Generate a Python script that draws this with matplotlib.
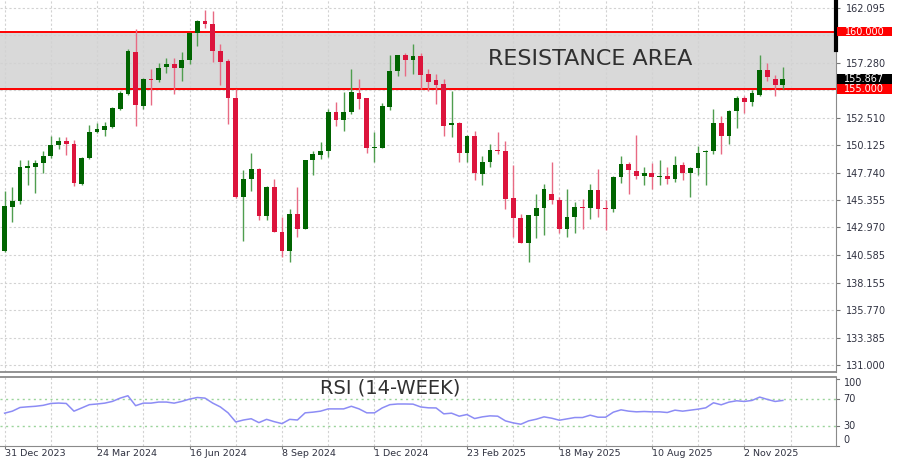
import matplotlib
matplotlib.use("Agg")
import matplotlib.pyplot as plt
import matplotlib.transforms as mtransforms
from matplotlib.patches import Rectangle
import numpy as np

# weekly USD/JPY candles, first one is the week of 31 Dec 2023
opens = [140.91, 144.75, 145.24, 148.13, 148.22, 148.59, 149.17, 150.17, 150.49, 150.23,
         146.77, 148.99, 151.30, 151.47, 151.68, 153.26, 154.56, 158.22, 153.55, 155.86,
         155.77, 156.93, 157.16, 156.81, 157.50, 159.90, 160.88, 160.62, 158.31, 157.45,
         154.19, 145.62, 147.14, 148.01, 143.97, 146.48, 142.59, 140.94, 144.17, 142.87,
         148.79, 149.30, 149.65, 152.98, 152.34, 152.98, 154.65, 154.19, 149.89, 149.89,
         153.41, 156.58, 157.94, 157.50, 157.88, 156.35, 155.77, 155.43, 151.85, 152.02,
         149.45, 150.90, 147.64, 148.65, 149.74, 149.65, 145.53, 143.80, 141.63, 143.94,
         144.69, 145.90, 145.33, 142.87, 143.88, 144.75, 144.69, 146.25, 144.66, 144.54,
         147.35, 148.50, 147.87, 147.43, 147.69, 147.32, 147.40, 147.20, 148.36, 147.72,
         148.13, 149.51, 149.65, 152.05, 150.95, 153.12, 154.19, 153.84, 154.50, 156.67,
         155.92, 155.37]
highs = [146.10, 146.48, 148.87, 148.79, 148.79, 149.65, 150.90, 150.81, 150.86, 150.61,
         149.10, 151.90, 152.05, 152.11, 153.45, 154.80, 158.52, 160.25, 155.95, 156.79,
         157.31, 157.68, 157.70, 158.22, 159.95, 161.00, 161.92, 161.77, 158.89, 157.60,
         154.99, 147.92, 149.45, 148.10, 146.55, 147.20, 143.90, 144.55, 146.48, 148.85,
         149.65, 150.38, 153.26, 153.90, 154.71, 156.73, 155.86, 154.25, 151.25, 153.78,
         157.94, 157.98, 158.11, 158.89, 158.11, 156.73, 156.30, 155.86, 154.85, 152.10,
         150.98, 151.39, 149.22, 150.23, 151.25, 150.52, 148.36, 144.17, 144.05, 145.90,
         146.77, 148.70, 145.62, 146.34, 145.19, 145.47, 146.77, 148.07, 145.33, 147.40,
         149.22, 148.65, 151.01, 148.22, 148.59, 148.79, 148.22, 149.17, 148.65, 148.20,
         150.03, 149.70, 153.26, 152.68, 153.15, 154.41, 154.41, 154.94, 157.94, 157.25,
         156.21, 156.96]
lows = [140.85, 143.45, 145.04, 146.68, 145.96, 147.72, 149.02, 149.80, 149.28, 146.57,
        146.62, 148.95, 151.18, 150.90, 151.60, 153.20, 154.50, 151.82, 153.30, 153.60,
        155.63, 156.44, 154.56, 155.72, 157.16, 158.74, 160.34, 157.36, 155.34, 151.96,
        145.55, 141.77, 146.10, 143.60, 143.60, 142.55, 140.42, 139.99, 142.16, 142.80,
        147.49, 148.94, 149.08, 151.82, 151.39, 152.83, 153.26, 149.45, 148.65, 149.85,
        153.18, 156.15, 156.15, 156.30, 155.00, 154.85, 153.70, 150.95, 150.81, 148.70,
        148.70, 147.06, 146.62, 148.22, 149.37, 144.60, 142.16, 141.60, 139.99, 142.07,
        142.30, 145.04, 142.44, 142.16, 142.44, 142.87, 143.74, 143.88, 142.73, 144.32,
        146.86, 145.90, 147.20, 146.62, 146.34, 146.62, 146.77, 146.92, 147.06, 145.62,
        147.49, 146.62, 149.37, 149.37, 150.23, 151.62, 152.92, 153.50, 154.41, 155.71,
        154.36, 155.05]
closes = [144.84, 145.27, 148.22, 148.35, 148.59, 149.22, 150.17, 150.52, 150.20, 146.86,
          149.02, 151.30, 151.50, 151.77, 153.38, 154.65, 158.31, 153.64, 155.89, 155.77,
          156.87, 157.16, 156.87, 157.53, 159.90, 160.91, 160.62, 158.31, 157.39, 154.19,
          145.62, 147.14, 148.01, 143.97, 146.48, 142.59, 140.94, 144.17, 142.87, 148.79,
          149.37, 149.65, 152.98, 152.34, 152.98, 154.71, 154.13, 149.89, 149.98, 153.50,
          156.58, 157.94, 157.53, 157.88, 156.23, 155.66, 155.37, 151.82, 152.02, 149.45,
          150.95, 147.72, 148.65, 149.71, 149.60, 145.47, 143.80, 141.63, 144.03, 144.69,
          146.34, 145.33, 142.87, 143.88, 144.75, 144.63, 146.25, 144.60, 144.54, 147.35,
          148.50, 147.92, 147.40, 147.72, 147.35, 147.40, 147.20, 148.36, 147.72, 148.16,
          149.45, 149.65, 152.05, 150.95, 153.12, 154.19, 153.84, 154.65, 156.67, 156.01,
          155.37, 155.87]
rsi = [49.0, 52.0, 57.5, 58.5, 59.3, 60.7, 63.5, 64.1, 63.5, 52.0,
       56.8, 61.7, 62.7, 64.0, 66.6, 71.5, 75.0, 60.2, 64.0, 64.0,
       65.6, 65.6, 64.0, 66.6, 70.0, 72.4, 71.5, 64.1, 58.3, 49.5,
       35.9, 38.8, 40.7, 34.9, 39.8, 36.3, 33.4, 39.8, 38.8, 49.5,
       50.5, 52.0, 55.4, 55.4, 55.4, 59.3, 55.4, 49.5, 49.5, 56.8,
       61.7, 62.7, 62.7, 62.5, 58.3, 57.0, 56.8, 48.0, 49.0, 44.5,
       47.0, 41.0, 43.5, 45.0, 44.5, 37.5, 34.5, 32.5, 37.5, 40.0,
       43.5, 41.5, 38.5, 40.5, 42.5, 42.5, 46.0, 43.0, 43.0, 50.5,
       54.0, 52.0, 51.0, 51.5, 51.0, 51.0, 50.0, 53.5, 52.0, 53.5,
       55.0, 57.0, 64.5, 61.5, 65.5, 67.5, 66.5, 68.0, 73.0, 69.5,
       66.5, 68.0]

date_labels = ["31 Dec 2023", "24 Mar 2024", "16 Jun 2024", "8 Sep 2024", "1 Dec 2024",
               "23 Feb 2025", "18 May 2025", "10 Aug 2025", "2 Nov 2025"]
price_ticks = [162.095, 159.710, 157.280, 154.895, 152.510, 150.125, 147.740, 145.355,
               142.970, 140.585, 138.155, 135.770, 133.385, 131.000]
zone_low, zone_high = 155.0, 160.0
last_price = 155.867

GREEN = "#006400"
RED = "#dc143c"
GRID = "#d2d2d2"
TXT = "#2f3140"

opens = np.array(opens)
closes = np.array(closes)
x = np.arange(len(closes))
up = closes >= opens

fig = plt.figure(figsize=(9, 4.59), dpi=100)
ax = fig.add_axes([0, 1 - 372 / 459, 836 / 900, 372 / 459])
rax = fig.add_axes([0, 1 - 446 / 459, 836 / 900, 69 / 459])

xlim = (-0.6, 107.9)
grid_x = np.arange(0, 108, 6)
label_x = np.arange(0, 12 * len(date_labels), 12)

# ---- price panel ----
ax.set_xlim(*xlim)
ax.set_ylim(130.39, 162.75)
ax.axhspan(zone_low, zone_high, color="#d9d9d9", zorder=0)
for p in price_ticks:
    ax.axhline(p, color=GRID, lw=0.8, ls=(0, (2, 2)), zorder=0.5)
for g in grid_x:
    ax.axvline(g, color=GRID, lw=0.8, ls=(0, (2, 2)), zorder=0.5)
ax.axhline(zone_high, color="#ff0000", lw=1.4, zorder=1)
ax.axhline(zone_low, color="#ff0000", lw=1.4, zorder=1)

wick_cols = np.where(up, "#4f9e4f", "#e86a83")
ax.vlines(x, lows, highs, colors=wick_cols, lw=1.0, zorder=2)
body_h = np.maximum(np.abs(closes - opens), 0.08)
ax.bar(x, body_h, bottom=np.minimum(opens, closes), width=0.62,
       color=np.where(up, GREEN, RED), zorder=3, linewidth=0)

ax.text(76.0, 157.6, "RESISTANCE AREA", ha="center", va="center",
        fontsize=16, color="#303030")

# labels sitting under the marker boxes are left blank
hidden = (159.710, 154.895)
ax.yaxis.tick_right()
ax.set_yticks(price_ticks)
ax.set_yticklabels(["" if p in hidden else f"{p:.3f}" for p in price_ticks])
ax.tick_params(axis="y", direction="out", length=3, width=0.8, colors="#777777",
               labelcolor=TXT, labelsize=7, pad=4)
ax.set_xticks([])
for s in ["left", "top"]:
    ax.spines[s].set_visible(False)
ax.spines["right"].set_color("#8a8a8a")
ax.spines["bottom"].set_color("#8a8a8a")
ax.spines["bottom"].set_linewidth(1.3)

# price markers on the right scale
tr = mtransforms.blended_transform_factory(ax.transAxes, ax.transData)
for level, col in [(zone_high, "#ff0000"), (last_price, "#000000"), (zone_low, "#ff0000")]:
    ax.add_patch(Rectangle((1.001, level - 0.42), 0.066, 0.84, transform=tr,
                           facecolor=col, edgecolor="none", clip_on=False, zorder=6))
    ax.text(1.034, level, f"{level:.3f}", transform=tr, ha="center", va="center",
            fontsize=7, color="white", clip_on=False, zorder=7)
ax.plot([1.0, 1.0], [162.75, 158.4], transform=tr, color="black", lw=3,
        clip_on=False, zorder=5)

# ---- RSI panel ----
rax.set_xlim(*xlim)
rax.set_ylim(0, 103)
for g in grid_x:
    rax.axvline(g, color=GRID, lw=0.8, ls=(0, (2, 2)), zorder=0.5)
for lvl in (70, 30):
    rax.axhline(lvl, color="#9bd49b", lw=1.0, ls=(0, (1.5, 2.5)), zorder=1)
rax.plot(x, rsi, color="#8c8cf5", lw=1.1, zorder=3)
rax.text(50.1, 86, "RSI (14-WEEK)", ha="center", va="center",
         fontsize=14, color="#303030")

rax.yaxis.tick_right()
rax.set_yticks([])
rtr = mtransforms.blended_transform_factory(rax.transAxes, rax.transData)
for lvl in (100, 70, 30, 0):
    va = "top" if lvl == 100 else ("bottom" if lvl == 0 else "center")
    yy = 102 if lvl == 100 else (1 if lvl == 0 else lvl)
    rax.text(1.009, yy, str(lvl), transform=rtr, ha="left", va=va,
             fontsize=7, color=TXT, clip_on=False)
    rax.plot([1.0, 1.004], [lvl, lvl], transform=rtr, color="#777777", lw=0.8,
             clip_on=False)

rax.set_xticks(label_x)
rax.set_xticklabels(date_labels, ha="left")
rax.tick_params(axis="x", direction="out", length=2, width=0.8, colors="#777777",
                labelcolor=TXT, labelsize=6.8, pad=0.5)
rax.spines["left"].set_visible(False)
for s in ["right", "top", "bottom"]:
    rax.spines[s].set_color("#8a8a8a")
rax.spines["top"].set_linewidth(1.3)

fig.savefig("out.png", dpi=100, facecolor="white")
